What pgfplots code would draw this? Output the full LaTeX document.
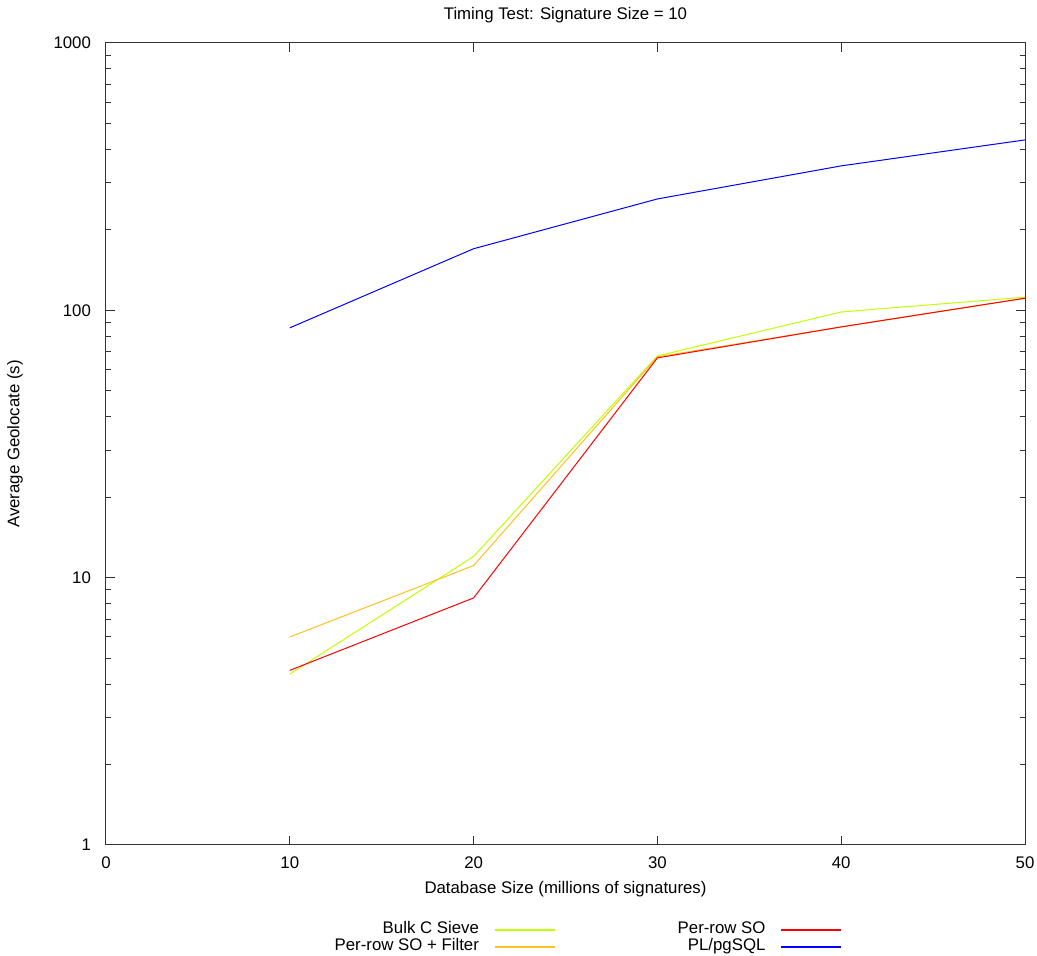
\documentclass[border=0pt]{standalone}
\usepackage{fontspec}
\setmainfont{Liberation Sans}
\usepackage{pgfplots}
\pgfplotsset{compat=1.18}
\definecolor{cgreen}{RGB}{192,255,0}
\definecolor{corange}{RGB}{255,192,32}
\definecolor{cred}{RGB}{255,0,0}
\definecolor{cblue}{RGB}{0,0,255}
\begin{document}
\begin{tikzpicture}
\begin{semilogyaxis}[
  scale only axis,
  width=459.5pt, height=401pt,
  font=\fontsize{8.4}{10}\selectfont,
  xmin=0, xmax=50, ymin=1, ymax=1000,
  xtick={0,10,20,30,40,50},
  xticklabels={0,10,20,30,40,50},
  ytick={1,10,100,1000},
  yticklabels={1,10,100,1000},
  tick align=inside,
  major tick length=4.5pt,
  minor tick length=2.5pt,
  axis line style={black!80, line width=0.5pt},
  every tick/.style={black!80, line width=0.5pt},
  yticklabel style={xshift=-4pt},
  xticklabel style={yshift=-2.5pt},
  title={Timing Test: Signature Size = 10},
  title style={yshift=0.5pt},
  xlabel={Database Size (millions of signatures)},
  ylabel={Average Geolocate (s)},
  xlabel style={at={(axis description cs:0.5,-0.0549)}, anchor=center},
  ylabel style={at={(axis description cs:-0.099,0.5)}, anchor=center},
  legend columns=2,
  transpose legend,
  legend plot pos=right,
  legend cell align=right,
  legend image code/.code={\draw[#1, line width=0.9pt] (0pt,0pt) -- (30pt,0pt);},
  legend style={draw=none, fill=none, at={(axis description cs:0.525,-0.09)}, anchor=north,
    font=\fontsize{8.4}{10}\selectfont,
    nodes={inner sep=0pt, text height=6.2pt, text depth=2.3pt},
    row sep=0pt,
    /tikz/every even column/.append style={column sep=61pt},
    /tikz/every odd column/.append style={column sep=7.5pt}},
]
\addplot[cgreen, line width=0.5pt] coordinates {(10,4.36) (20,12.0) (30,67.5) (40,98.6) (50,112)};
\addlegendentry{Bulk C Sieve}
\addplot[corange, line width=0.5pt] coordinates {(10,6.0) (20,11.1) (30,67) (40,86.7) (50,111)};
\addlegendentry{Per-row SO + Filter}
\addplot[cred, line width=0.5pt] coordinates {(10,4.5) (20,8.4) (30,66.4) (40,86.7) (50,111)};
\addlegendentry{Per-row SO}
\addplot[cblue, line width=0.5pt] coordinates {(10,86) (20,170) (30,261) (40,347) (50,434)};
\addlegendentry{PL/pgSQL}
\end{semilogyaxis}
\pgfresetboundingbox
\path ([shift={(-53pt,-55.5pt)}]current axis.south west) rectangle ([shift={(6pt,21.5pt)}]current axis.north east);
\end{tikzpicture}
\end{document}
